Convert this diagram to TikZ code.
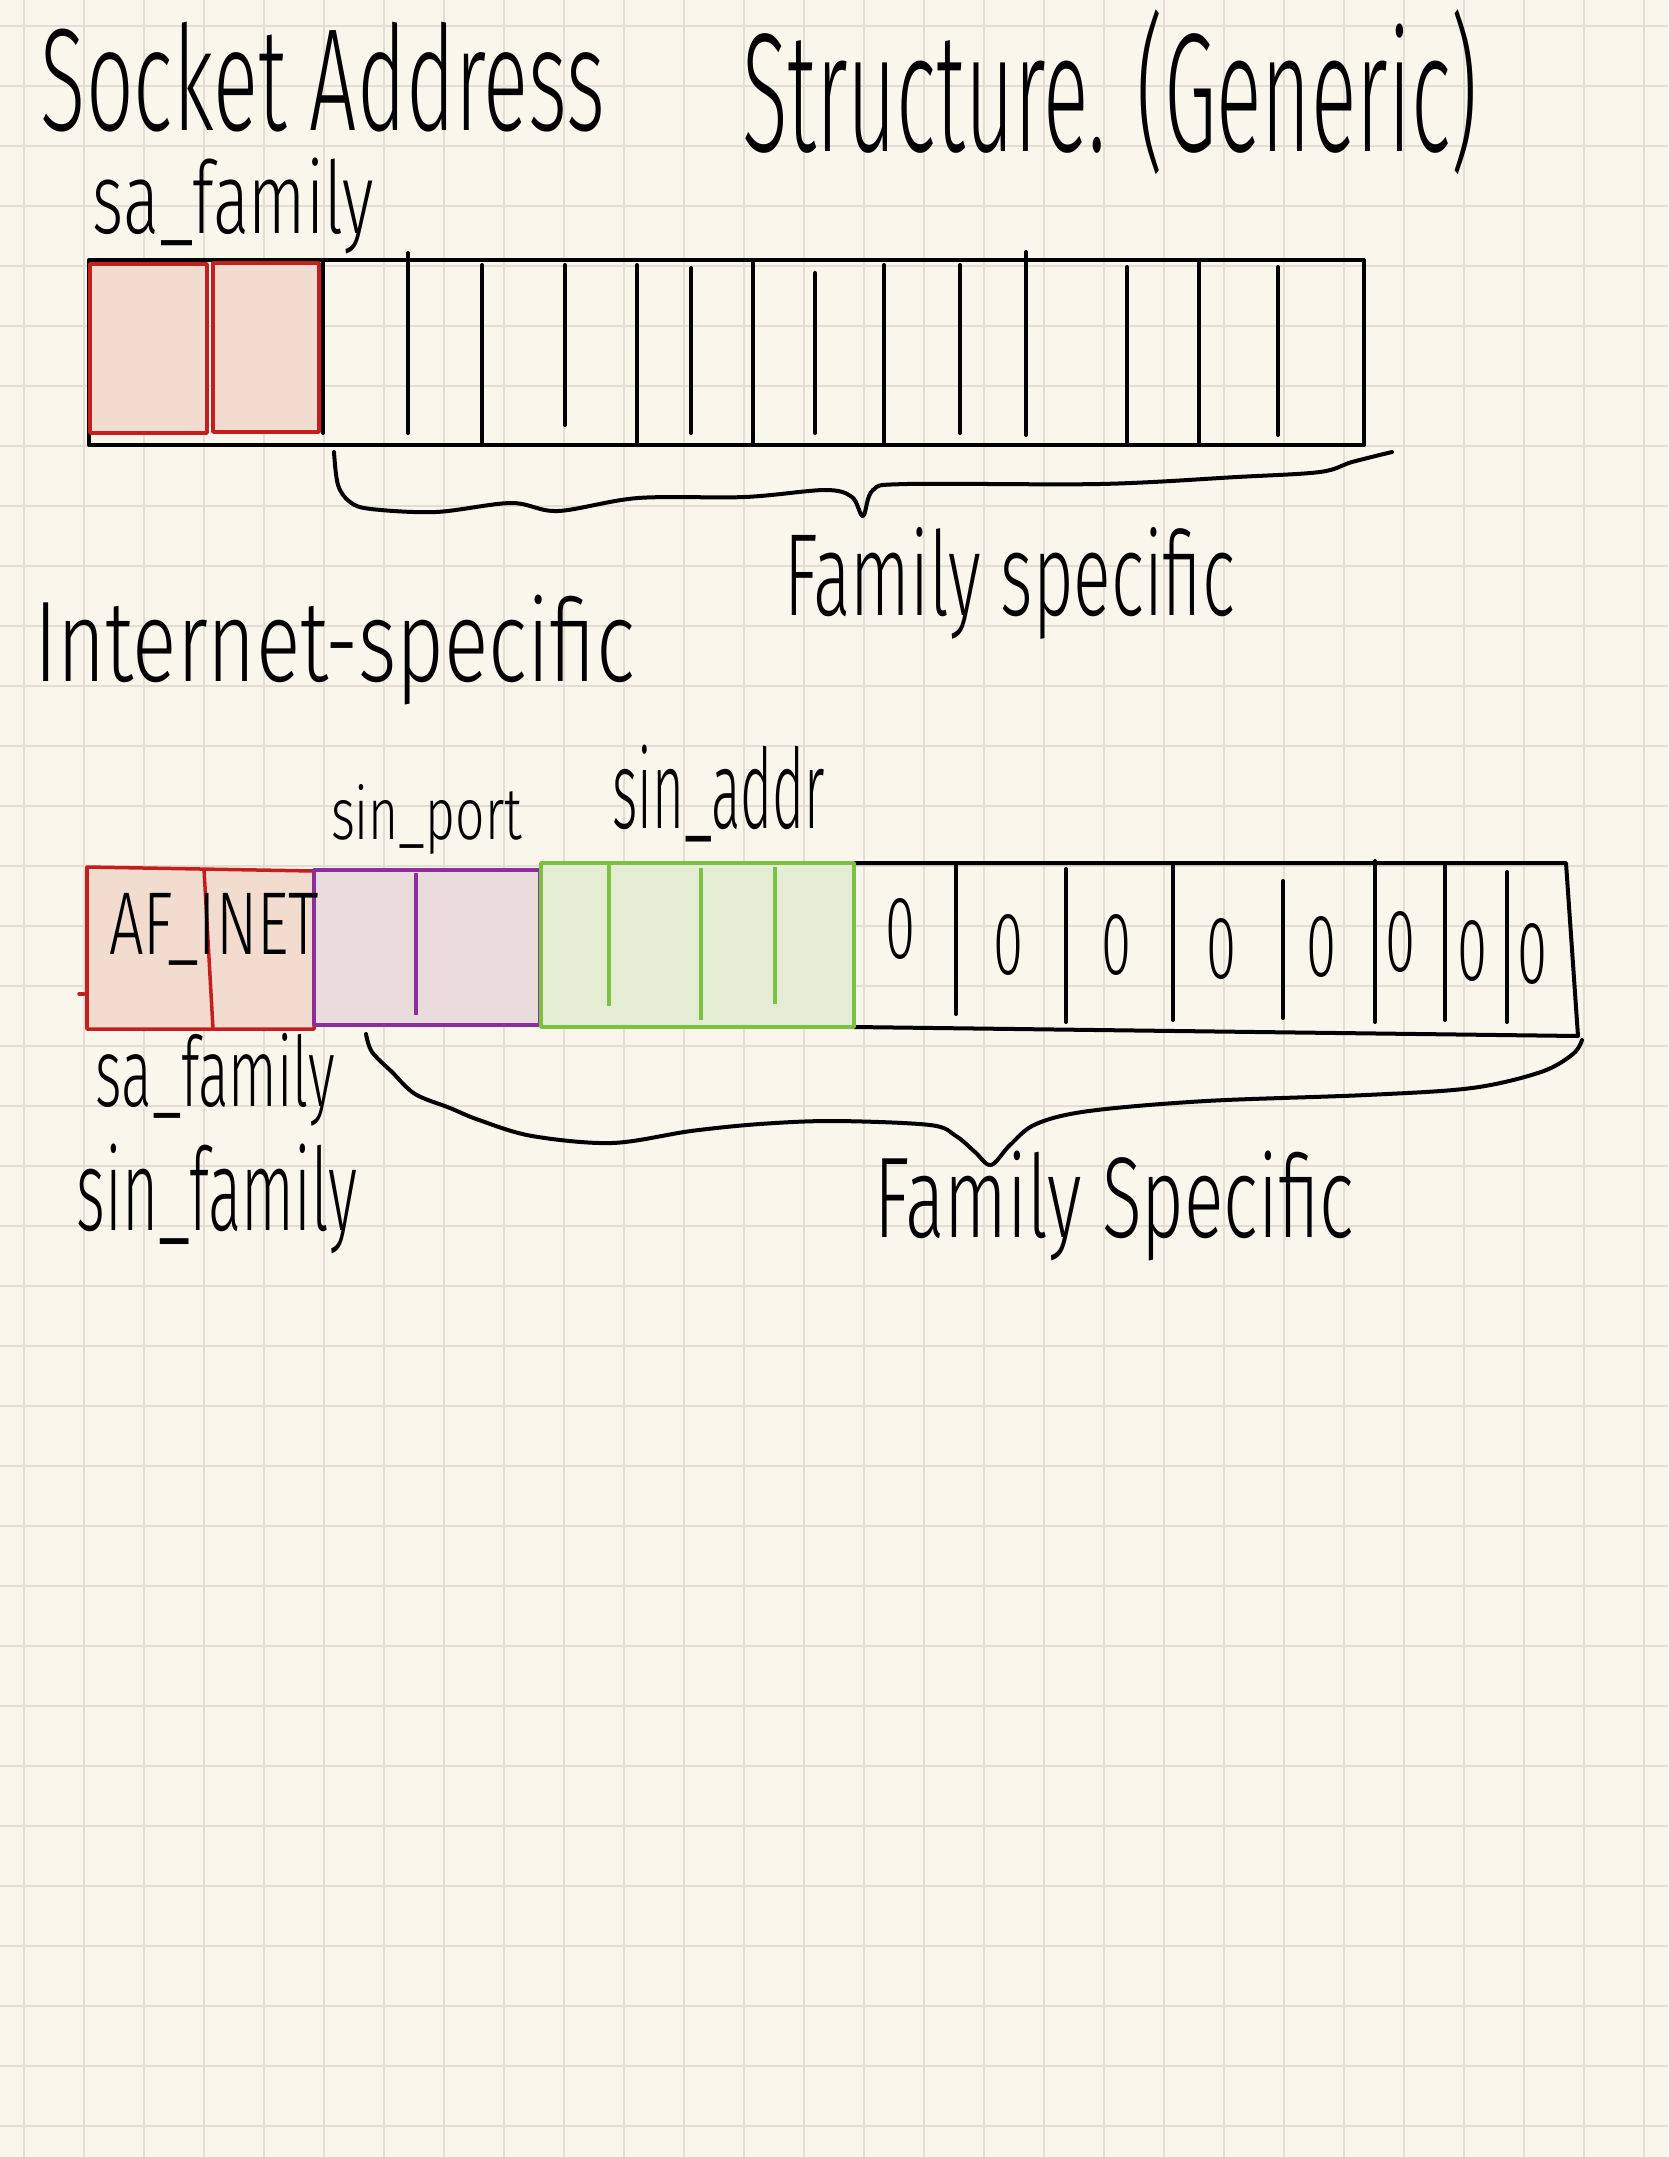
\documentclass[tikz,border=0pt]{standalone}
\usepackage{fontspec}
\usepackage{graphicx}
\newfontfamily\hwfont{Fira Sans Light}
\newlength\upx
\setlength\upx{0.01cm}
\newcommand\hw[3]{\resizebox*{#1\upx}{#2\upx}{\hwfont #3}}
\definecolor{bgc}{HTML}{F9F7EB}
\definecolor{gridc}{HTML}{E2DFD2}
\definecolor{redb}{HTML}{C41E1E}
\definecolor{redf}{HTML}{F2DCCF}
\definecolor{purb}{HTML}{8B2F9A}
\definecolor{purf}{HTML}{EADCDD}
\definecolor{grnb}{HTML}{7CC242}
\definecolor{grnf}{HTML}{E4EDD3}
\begin{document}
\begin{tikzpicture}[x=0.01cm,y=-0.01cm,
  pen/.style={line width=0.04cm, line cap=round, line join=round, draw=black},
  cell/.style={line width=0.035cm, line join=round},
  lbl/.style={inner sep=0pt, outer sep=0pt, anchor=north west, text=black},
  zero/.style={inner sep=0pt, outer sep=0pt, text=black}]
\useasboundingbox (0,0) rectangle (1668,2157);
\fill[bgc] (0,0) rectangle (1668,2157);
\foreach \i in {0,...,27} \draw[gridc, line width=0.025cm] ({24+60*\i},0) -- ({24+60*\i},2157);
\foreach \j in {0,...,35} \draw[gridc, line width=0.025cm] (0,{26+60*\j}) -- (1668,{26+60*\j});

% ---------- title and labels ----------
\node[lbl] (title1) at (41,22) {\hw{564}{110}{Socket Address}};
\node[lbl] (title2) at (742,10) {\hw{736}{165}{Structure. (Generic)}};
\node[lbl] (safam1) at (93,158) {\hw{281}{96}{sa\_family}};
\node[lbl] (famspec1) at (784,527) {\hw{451}{112}{Family specific}};
\node[lbl] (inet) at (34,595) {\hw{601}{110}{Internet-specific}};
\node[lbl] (sinport) at (331,784) {\hw{191}{70}{sin\_port}};
\node[lbl] (sinaddr) at (612,745) {\hw{213}{97}{sin\_addr}};
\node[lbl] (safam2) at (96,1033) {\hw{239}{93}{sa\_family}};
\node[lbl] (sinfam) at (77,1144) {\hw{280}{110}{sin\_family}};
\node[lbl] (famspec2) at (874,1151) {\hw{480}{110}{Family Specific}};

% ---------- generic sockaddr ----------
\draw[pen] (89,260) rectangle (1364,445);
\foreach \x/\a/\b in {323/262/433, 408/253/433, 482/265/443, 565/265/425, 637/265/445, 691/268/433,
  753/263/443, 815/273/433, 884/265/443, 960/265/433, 1026/252/435, 1127/267/443, 1199/263/443, 1278/267/435}
  \draw[pen] (\x,\a) -- (\x,\b);
\draw[cell, draw=redb, fill=redf] (90,264) rectangle (207,433);
\draw[cell, draw=redb, fill=redf] (213,263) rectangle (319,432);

% brace (top)
\coordinate (b1s) at (334,452);
\coordinate (b1e) at (1392,452);
\draw[pen] plot[smooth, tension=0.55] coordinates {(b1s) (338,485) (350,502) (371,509) (436,512) (511,503) (558,511)
  (638,498) (745,497) (825,490) (852,497) (863,516) (873,490) (907,484) (1100,484) (1237,477) (1320,472) (1352,462) (b1e)};

% ---------- sockaddr_in ----------
\draw[pen] (854,863) -- (1566,863) -- (1578,1036) -- (854,1027);
\foreach \x/\a/\b in {956/864/1014, 1066/869/1022, 1173/863/1020, 1283/881/1018, 1375/861/1022, 1445/863/1020, 1507/872/1022}
  \draw[pen] (\x,\a) -- (\x,\b);
\draw[cell, draw=redb, fill=redf] (87,867) -- (314,871) -- (314,1029) -- (87,1029) -- cycle;
\draw[cell, draw=redb] (204,869) -- (213,1029);
\draw[cell, draw=redb, line cap=round] (79,994) -- (84,994);
\draw[cell, draw=purb, fill=purf] (314,870) rectangle (540,1025);
\draw[cell, draw=purb] (416,873) -- (416,1015);
\draw[cell, draw=grnb, fill=grnf] (541,863) rectangle (854,1027);
\draw[cell, draw=grnb] (609,865) -- (609,1006);
\draw[cell, draw=grnb] (701,868) -- (701,1020);
\draw[cell, draw=grnb] (775,867) -- (775,1004);
\node[lbl] (afinet) at (109,893) {\hw{210}{72}{AF\_INET}};
\foreach \x/\y [count=\k] in {900/929,1008/945,1116/945,1221/949,1321/947,1400/942,1472/951,1532/954}
  \node[zero] (z\k) at (\x,\y) {\resizebox{30\upx}{60\upx}{\hwfont 0}};

% brace (bottom)
\coordinate (b2s) at (366,1034);
\coordinate (b2e) at (1582,1040);
\draw[pen] plot[smooth, tension=0.55] coordinates {(b2s) (372,1052) (392,1072) (415,1094) (450,1108) (479,1120) (532,1136)
  (612,1143) (691,1131) (760,1124) (834,1121) (930,1125) (956,1136) (975,1152) (991,1165) (1010,1145) (1036,1124)
  (1089,1111) (1206,1101) (1366,1095) (1472,1088) (1541,1072) (1573,1054) (b2e)};
\end{tikzpicture}
\end{document}
